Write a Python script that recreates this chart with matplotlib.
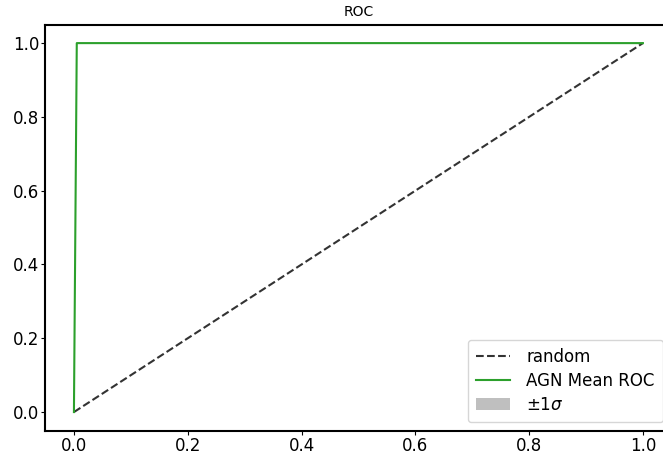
import numpy as np
import matplotlib
matplotlib.use("Agg")
from matplotlib import pyplot as plt
from matplotlib.patches import Patch

# mean ROC curve and its spread
mean_fpr = [0.0, 0.005, 1.0]
mean_tpr = [0.0, 1.0, 1.0]
std_tpr = [0.0, 0.0, 0.0]

random_x = [0.0, 1.0]
random_y = [0.0, 1.0]


def main():
    fig = plt.figure(figsize=(6.63, 4.55), dpi=100)
    ax = fig.add_axes([0.0686, 0.0538, 0.944, 0.892])

    ax.plot(random_x, random_y, linestyle="--", color="#333333", lw=1.5, label="random")
    ax.plot(mean_fpr, mean_tpr, color="#2ca02c", lw=1.5, label="AGN Mean ROC")

    tpr = np.array(mean_tpr)
    std = np.array(std_tpr)
    ax.fill_between(mean_fpr, tpr - std, tpr + std, color="grey", alpha=0.5, lw=0)

    handles, labels = ax.get_legend_handles_labels()
    handles.append(Patch(facecolor="grey", alpha=0.5, label=r"$\pm 1\sigma$"))
    labels.append(r"$\pm 1\sigma$")
    ax.legend(handles, labels, loc="lower right", fontsize=12,
              labelspacing=0.35, handletextpad=1.0, borderpad=0.5)

    for side in ax.spines.values():
        side.set_linewidth(1.5)

    ax.set_xlim(-0.05, 1.05)
    ax.set_ylim(-0.05, 1.05)
    ax.set_xticks([0.0, 0.2, 0.4, 0.6, 0.8, 1.0])
    ax.set_yticks([0.0, 0.2, 0.4, 0.6, 0.8, 1.0])
    ax.tick_params(labelsize=12, length=3, pad=1.5)
    ax.set_title("ROC", fontsize=10)

    fig.savefig("out.png", dpi=100)


if __name__ == "__main__":
    main()
